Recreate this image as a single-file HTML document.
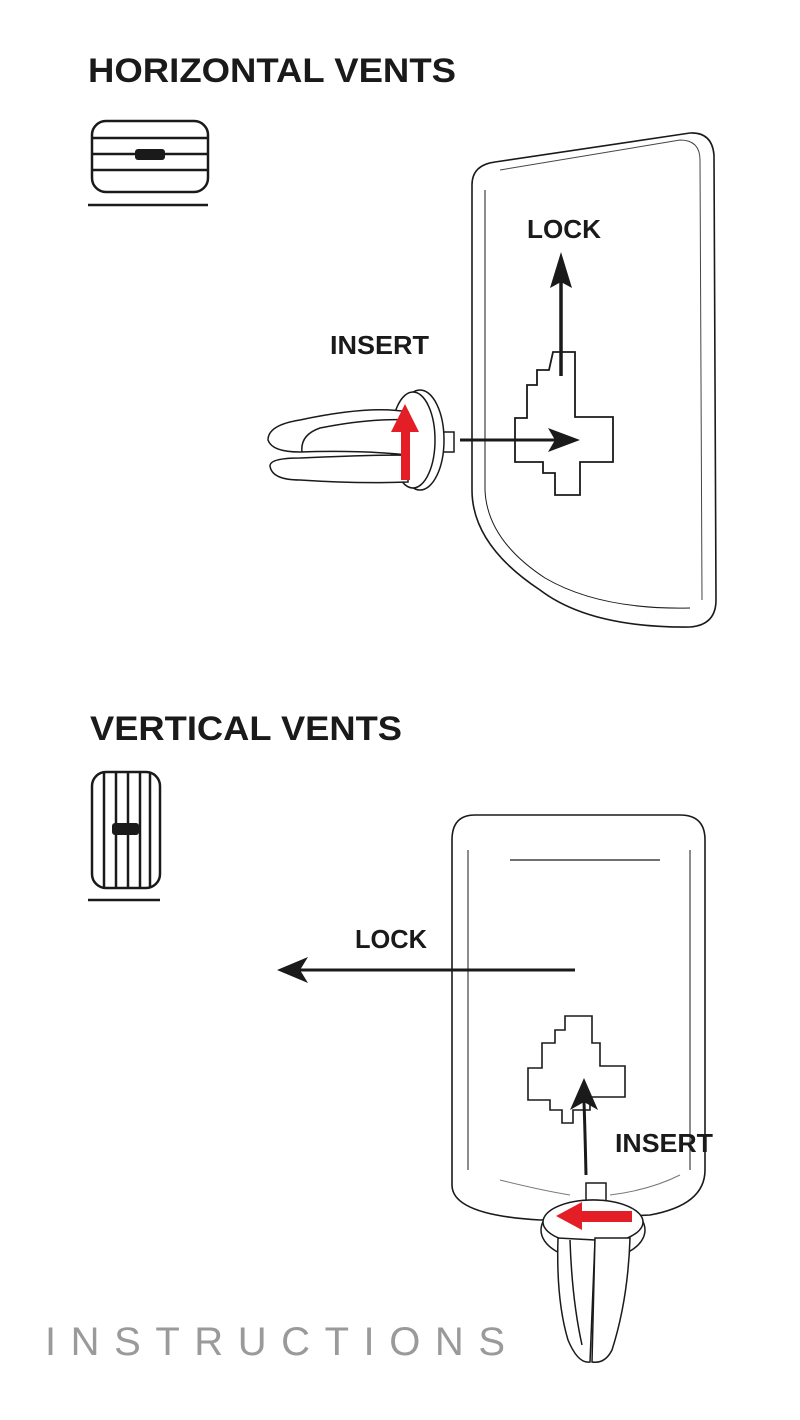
<!DOCTYPE html>
<html><head><meta charset="utf-8"><style>
html,body{margin:0;padding:0;background:#fff;}
svg{display:block}
</style></head><body>
<svg width="800" height="1420" viewBox="0 0 800 1420" xmlns="http://www.w3.org/2000/svg">
<g font-family="Liberation Sans, sans-serif" font-weight="bold" fill="#1a1a1a">
<text x="88" y="82" font-size="34" textLength="368" lengthAdjust="spacingAndGlyphs">HORIZONTAL VENTS</text>
<text x="90" y="740" font-size="34" textLength="312" lengthAdjust="spacingAndGlyphs">VERTICAL VENTS</text>
<text x="527" y="238" font-size="26" textLength="74" lengthAdjust="spacingAndGlyphs">LOCK</text>
<text x="330" y="354" font-size="26" textLength="99" lengthAdjust="spacingAndGlyphs">INSERT</text>
<text x="355" y="948" font-size="26" textLength="72" lengthAdjust="spacingAndGlyphs">LOCK</text>
<text x="615" y="1152" font-size="26" textLength="98" lengthAdjust="spacingAndGlyphs">INSERT</text>
</g>
<text x="45" y="1355" font-family="Liberation Sans, sans-serif" font-size="40" fill="#9a9a9a" textLength="460" lengthAdjust="spacing">INSTRUCTIONS</text>

<g fill="none" stroke="#1a1a1a" stroke-width="2.5">
<rect x="92" y="121" width="116" height="71" rx="14"/>
<line x1="92" y1="138" x2="208" y2="138"/>
<line x1="92" y1="154" x2="208" y2="154"/>
<line x1="92" y1="170" x2="208" y2="170"/>
<line x1="88" y1="205" x2="208" y2="205"/>
<rect x="92" y="772" width="68" height="116" rx="14"/>
<line x1="104" y1="772" x2="104" y2="888"/>
<line x1="116" y1="772" x2="116" y2="888"/>
<line x1="128" y1="772" x2="128" y2="888"/>
<line x1="140" y1="772" x2="140" y2="888"/>
<line x1="150" y1="772" x2="150" y2="888"/>
<line x1="88" y1="900" x2="160" y2="900"/>
</g>
<rect x="135" y="149" width="30" height="11" rx="3" fill="#1a1a1a"/>
<rect x="112" y="823" width="27" height="12" rx="3" fill="#1a1a1a"/>

<!-- top mount -->
<g fill="none" stroke="#1a1a1a" stroke-width="1.6">
<path d="M472,185 Q472,165 495,162 L690,133 Q712,132 714,155 L716,600 Q716,625 690,627 Q590,628 540,590 Q472,545 472,490 Z"/>
<path d="M485,190 L485,490 Q487,540 545,578 Q600,610 690,608" stroke-width="1"/>
<path d="M500,170 L680,140 Q700,140 700,160 L702,600" stroke-width="1" stroke="#444"/>
<path d="M553,352 L575,352 L575,417 L613,417 L613,462 L580,462 L580,495 L555,495 L555,473 L543,473 L543,462 L515,462 L515,418 L527,418 L527,385 L537,385 L537,370 L549,370 Z" stroke-width="1.8"/>
</g>
<line x1="561" y1="376" x2="561" y2="280" stroke="#1a1a1a" stroke-width="3.5"/>
<path d="M561,252 L550,288 L561,282 L572,288 Z" fill="#1a1a1a"/>
<line x1="460" y1="440" x2="560" y2="440" stroke="#1a1a1a" stroke-width="3"/>
<path d="M580,440 L548,428 L555,440 L548,452 Z" fill="#1a1a1a"/>

<!-- top clip -->
<g fill="#fff" stroke="#1a1a1a" stroke-width="1.5">
<rect x="438" y="432" width="16" height="20"/>
<ellipse cx="420" cy="440" rx="24" ry="50"/>
<ellipse cx="413" cy="440" rx="22" ry="48"/>
<path d="M408,412 Q370,405 300,420 Q268,425 268,440 Q272,452 300,452 Q360,450 408,455 Z"/>
<path d="M408,455 Q370,455 300,458 Q270,458 270,466 Q272,480 300,480 Q360,484 408,482 Z"/>
<path d="M408,420 Q370,418 320,428 Q300,435 302,452" fill="none"/>
</g>
<rect x="401" y="428" width="9" height="52" fill="#e41e26"/>
<path d="M391,432 L405,404 L419,432 Z" fill="#e41e26"/>

<!-- bottom mount -->
<g fill="none" stroke="#1a1a1a" stroke-width="1.6">
<path d="M475,815 L680,815 Q705,815 705,840 L705,1170 Q705,1205 650,1215 L540,1220 Q452,1215 452,1185 L452,840 Q452,815 475,815 Z"/>
<path d="M468,850 L468,1170" stroke-width="1"/>
<path d="M690,850 L690,1170" stroke-width="1"/>
<path d="M510,860 L660,860" stroke-width="1.2"/>
<path d="M500,1180 Q540,1190 570,1195 M610,1195 Q650,1190 680,1175" stroke-width="1" stroke="#777"/>
<path d="M565,1016 L592,1016 L592,1043 L600,1043 L600,1066 L625,1066 L625,1097 L590,1097 L590,1110 L573,1110 L573,1123 L562,1123 L562,1110 L550,1110 L550,1100 L528,1100 L528,1068 L542,1068 L542,1043 L555,1043 L555,1030 L565,1030 Z" stroke-width="1.6"/>
</g>
<line x1="575" y1="970" x2="300" y2="970" stroke="#1a1a1a" stroke-width="3"/>
<path d="M277,970 L308,957 L300,970 L308,983 Z" fill="#1a1a1a"/>
<path d="M586,1175 Q585,1130 584,1102" fill="none" stroke="#1a1a1a" stroke-width="3"/>
<path d="M584,1078 L570,1110 L584,1102 L598,1110 Z" fill="#1a1a1a"/>

<!-- bottom clip -->
<g fill="#fff" stroke="#1a1a1a" stroke-width="1.5">
<rect x="586" y="1183" width="20" height="18"/>
<ellipse cx="593" cy="1230" rx="52" ry="30"/>
<ellipse cx="593" cy="1222" rx="50" ry="22"/>
<path d="M558,1238 Q556,1300 568,1340 Q578,1364 590,1362 L595,1240 Z"/>
<path d="M595,1238 L592,1362 Q605,1364 612,1350 Q628,1300 630,1238 Z"/>
<path d="M570,1240 Q572,1300 582,1345" fill="none"/>
</g>
<rect x="570" y="1211" width="62" height="11" fill="#e41e26"/>
<path d="M556,1216 L582,1202 L582,1230 Z" fill="#e41e26"/>
</svg>
</body></html>
